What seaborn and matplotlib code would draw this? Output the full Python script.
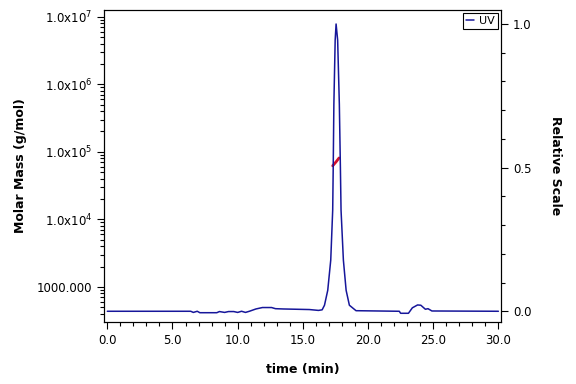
import numpy as np
import pandas as pd
import matplotlib
matplotlib.use('Agg')
import matplotlib.pyplot as plt
from matplotlib.ticker import FixedLocator, MultipleLocator, LogLocator, NullFormatter
import seaborn as sns

sns.set_style("ticks")
plt.rcParams['font.family'] = ['DejaVu Sans']
for k in ['text.color', 'axes.labelcolor', 'xtick.color', 'ytick.color', 'axes.edgecolor']:
    plt.rcParams[k] = 'black'

# UV trace (relative scale)
uv_time = [0.0, 6.4, 6.6, 6.9, 7.1, 8.4, 8.6, 9.0, 9.3, 9.7, 10.0, 10.3, 10.6, 10.9,
           11.4, 11.9, 12.6, 12.9, 13.5, 15.5, 16.2, 16.48, 16.66, 16.91, 17.14,
           17.29, 17.33, 17.38, 17.48, 17.55, 17.67, 17.80, 17.88, 17.93, 18.11,
           18.32, 18.57, 19.08, 22.4, 22.5, 23.1, 23.4, 23.8, 24.05, 24.4, 24.6,
           24.9, 30.0]
uv_value = [0.0, 0.0, -0.004, 0.0, -0.005, -0.005, -0.001, -0.004, -0.001, -0.001,
            -0.004, 0.0, -0.004, 0.0, 0.008, 0.013, 0.013, 0.009, 0.008, 0.006,
            0.003, 0.005, 0.021, 0.073, 0.178, 0.352, 0.50, 0.72, 0.944, 1.0,
            0.944, 0.72, 0.502, 0.352, 0.178, 0.073, 0.021, 0.002, 0.0, -0.007,
            -0.007, 0.012, 0.022, 0.021, 0.007, 0.009, 0.001, 0.0]

# molar mass across the peak
mm_time = [17.29, 17.55, 17.78]
mm_value = [6.2e4, 7.1e4, 8.1e4]

left_ticks = [1e3, 1e4, 1e5, 1e6, 1e7]
left_labels = ['1000.000', r'1.0x10$^{4}$', r'1.0x10$^{5}$', r'1.0x10$^{6}$', r'1.0x10$^{7}$']

uv = pd.DataFrame({'time': uv_time, 'uv': uv_value})
mm = pd.DataFrame({'time': mm_time, 'mass': mm_value})

fig = plt.figure(figsize=(5.76, 3.84), dpi=100)
ax = fig.add_axes([0.1806, 0.1615, 0.6892, 0.8125])
ax2 = ax.twinx()

sns.lineplot(data=uv, x='time', y='uv', ax=ax2, color='#16169a', lw=1.1,
             label='UV', sort=False)
sns.lineplot(data=mm, x='time', y='mass', ax=ax, color='#d4102c', lw=2.0)

ax.set_yscale('log')
ax.set_ylim(302, 1.256e7)
ax.set_xlim(-0.25, 30.2)
ax2.set_ylim(-0.0373, 1.0488)

ax.yaxis.set_major_locator(FixedLocator(left_ticks))
ax.set_yticklabels(left_labels)
ax.yaxis.set_minor_locator(LogLocator(base=10, subs=np.arange(2, 10)))
ax.yaxis.set_minor_formatter(NullFormatter())
ax.xaxis.set_major_locator(MultipleLocator(5))
ax.xaxis.set_minor_locator(MultipleLocator(1))
ax.xaxis.set_major_formatter(matplotlib.ticker.FormatStrFormatter('%.1f'))
ax2.yaxis.set_major_locator(MultipleLocator(0.5))
ax2.yaxis.set_minor_locator(MultipleLocator(0.1))
ax2.yaxis.set_major_formatter(matplotlib.ticker.FormatStrFormatter('%.1f'))

for a in (ax, ax2):
    a.tick_params(which='major', length=5, width=0.8, labelsize=8.5, direction='out')
    a.tick_params(which='minor', length=3, width=0.8, direction='out')
    for s in a.spines.values():
        s.set_linewidth(0.8)
        s.set_visible(True)

ax.set_xlabel('time (min)', fontsize=9, fontweight='bold', labelpad=12)
ax.set_ylabel('Molar Mass (g/mol)', fontsize=9, fontweight='bold', labelpad=7)
ax2.set_ylabel('Relative Scale', fontsize=9, fontweight='bold', rotation=-90, labelpad=22)

leg = ax2.legend(loc='upper right', fontsize=8, handlelength=0.7, handletextpad=0.5,
                 fancybox=False, framealpha=1, edgecolor='black', borderaxespad=0.3,
                 borderpad=0.25)
leg.get_frame().set_linewidth(0.8)

fig.savefig('out.png', dpi=100)
